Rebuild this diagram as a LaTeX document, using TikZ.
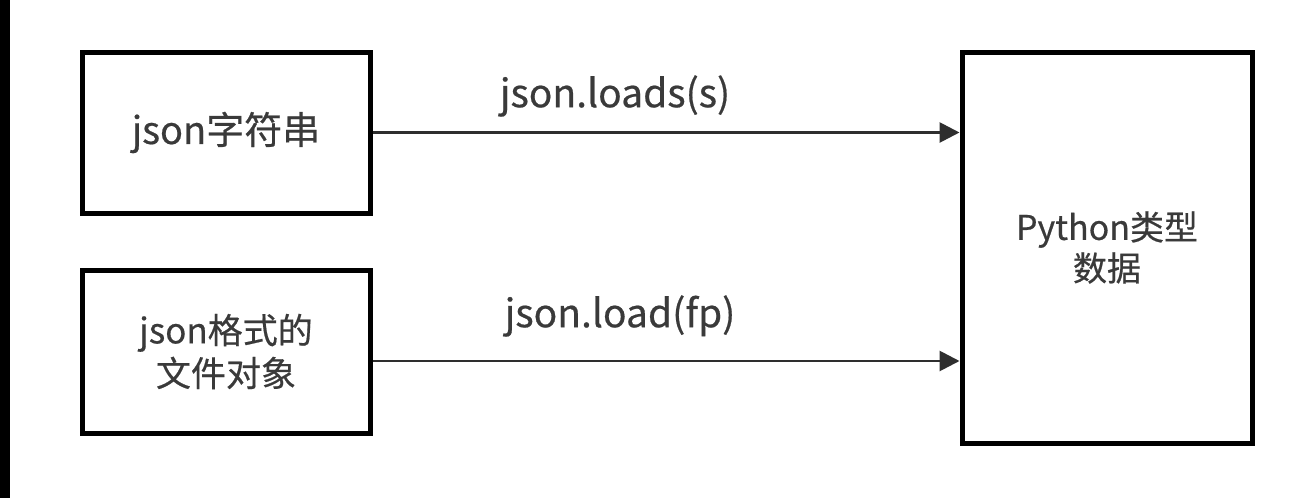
\documentclass[tikz,border=0pt]{standalone}
\usepackage{fontspec}
\setmainfont{Noto Sans CJK SC}
\newfontfamily\mainf{Noto Sans CJK SC}[FakeBold=0.5]
\usetikzlibrary{arrows.meta,calc}
\definecolor{txt}{HTML}{3A3A3A}
\definecolor{ln}{HTML}{2E2E2E}
\tikzset{
  box/.style={draw=black, line width=2.5pt, rectangle, align=center, text=txt, font=\mainf\fontsize{19pt}{21pt}\selectfont, inner sep=0pt},
  conn/.style={draw=ln, line width=1.4pt, -{Triangle[length=10pt,width=10pt]}},
  lbl/.style={text=txt, font=\mainf\fontsize{19.5pt}{21pt}\selectfont, inner sep=0pt}
}
\begin{document}
\begin{tikzpicture}[x=0.5pt,y=-0.5pt]
\useasboundingbox (0,0) rectangle (1311,498);
\fill[white] (0,0) rectangle (1311,498);
\fill[black] (0,0) rectangle (10,498);
\node[box, minimum width=144pt, minimum height=80.5pt] (b1) at (226,132.5) {json字符串};
\node[box, minimum width=144pt, minimum height=81.5pt, font=\mainf\fontsize{17.5pt}{21.5pt}\selectfont] (b2) at (226,351.5) {json格式的\\文件对象};
\node[box, minimum width=145pt, minimum height=195.5pt, font=\mainf\fontsize{17pt}{20.5pt}\selectfont] (b3) at (1107,247.5) {Python类型\\数据};
\coordinate (s2) at ([yshift=-4.75pt]b2.east);
\draw[conn] (b1.east) -- (b1.east -| b3.west);
\draw[conn] (s2) -- (s2 -| b3.west);
\node[lbl] (l1) at (615,96) {json.loads(s)};
\node[lbl] (l2) at (620,316) {json.load(fp)};
\end{tikzpicture}
\end{document}
